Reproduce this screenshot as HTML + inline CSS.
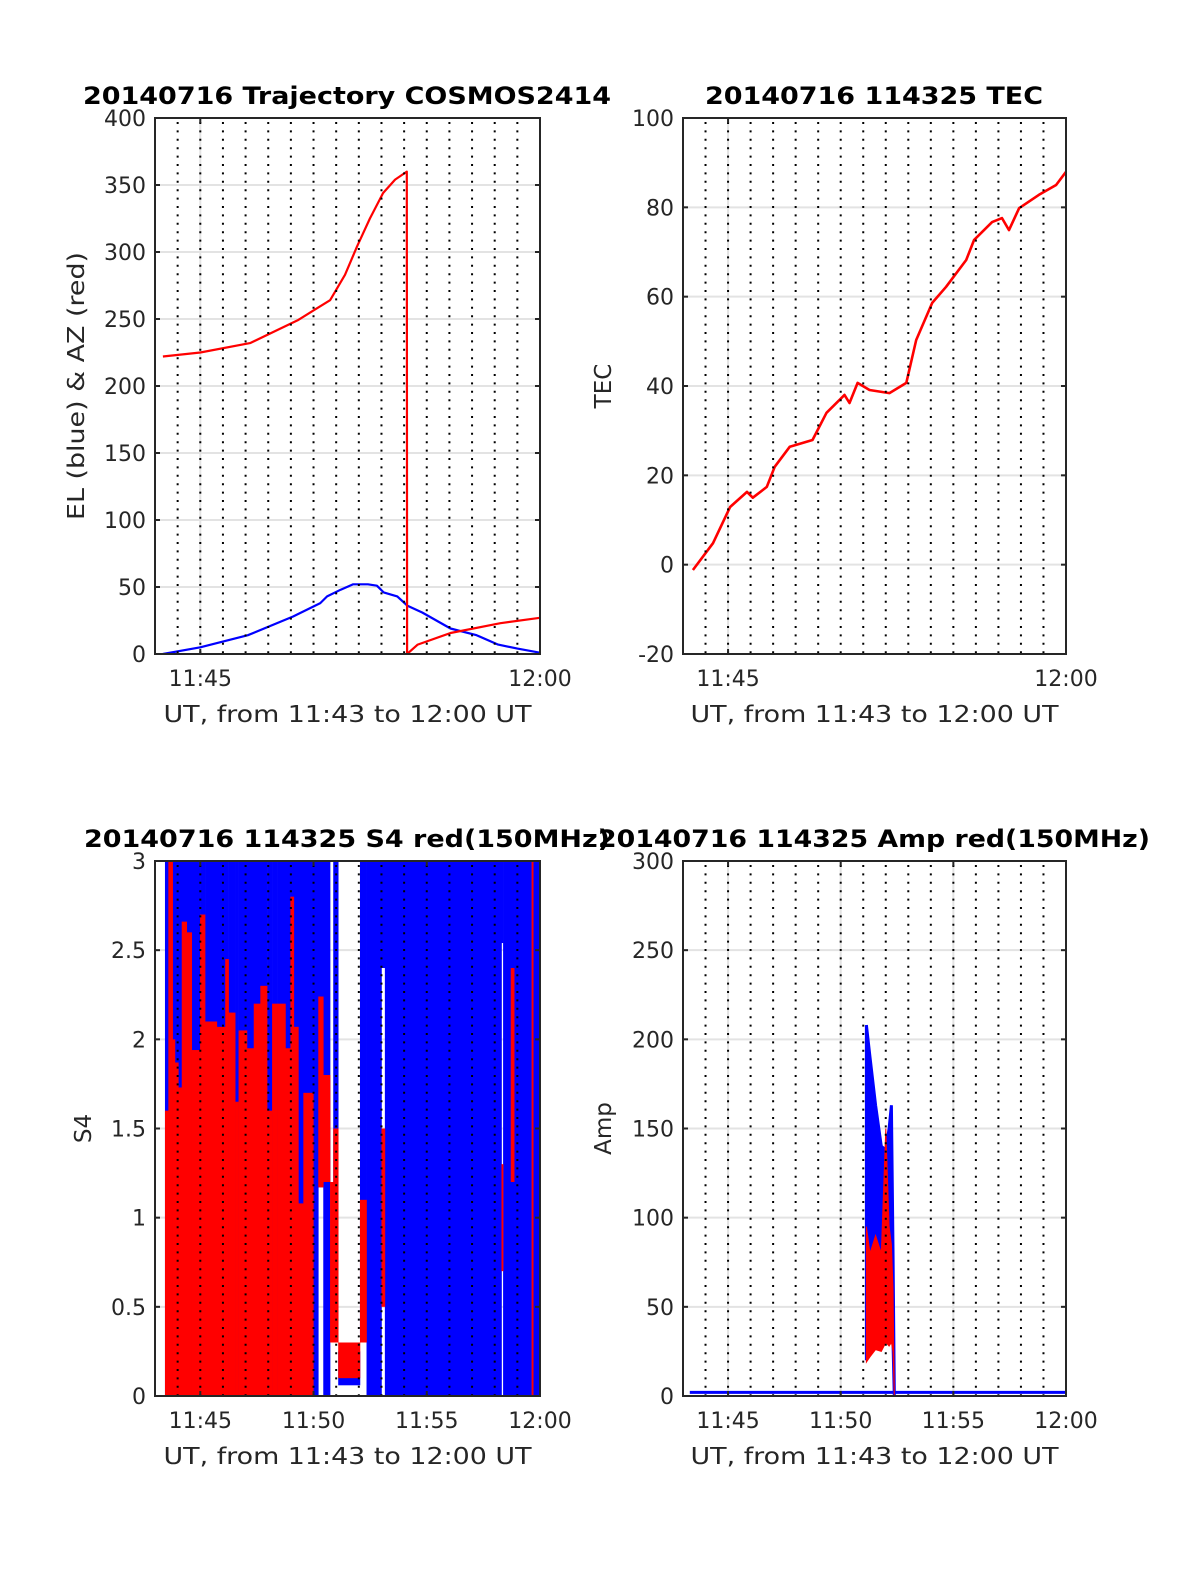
<!DOCTYPE html>
<html><head><meta charset="utf-8">
<style>
html,body{margin:0;padding:0;background:#fff;overflow:hidden;width:1200px;height:1575px;}
svg{display:block;}
text{font-family:"DejaVu Sans","Liberation Sans",sans-serif;fill:#262626;}
.title{font-weight:bold;font-size:24px;fill:#000;}
.tick{font-size:22px;}
.lab{font-size:23px;}
</style></head>
<body>
<svg id="root" width="1200" height="1575" viewBox="0 0 1200 1575" xmlns="http://www.w3.org/2000/svg">
<rect x="0" y="0" width="1200" height="1575" fill="#fff"/>
</svg>
<script>
// ---- data (times in minutes after 11:00) ----
const elTimes=[43.35,45.0,47.1,49.1,50.3,50.6,51.2,51.75,52.4,52.8,53.1,53.7,54.15,54.8,56.05,57.2,58.15,59.0,60.0];
const elValues=[0,5,14,28,38,43,48,52,52,51,46,43,36,31,19,14,7,4,1];
const azTimes=[43.35,45.0,47.2,49.3,50.06,50.73,51.39,51.92,52.49,53.07,53.6,54.04,54.12];
const azValues=[222,225,232,249,257,264,283,304,325,344,354,359,360];
const az2Times=[54.13,54.6,56.05,58.25,60.0];
const az2Values=[0,7,15.7,23,27];
const tecTimes=[43.44,44.33,45.09,45.84,46.1,46.72,47.07,47.74,48.75,49.37,50.17,50.39,50.75,51.28,52.16,52.91,53.35,54.06,54.68,55.57,55.92,56.72,57.16,57.47,57.92,58.8,59.56,60.05];
const tecValues=[-1.2,4.8,12.9,16.3,15,17.4,21.9,26.4,27.9,34,38,36.2,40.7,39.1,38.4,40.7,50.3,58.6,62.2,68.2,72.7,76.7,77.6,74.9,79.8,82.8,85,88.3];
const s4Start=[43.44,43.59,43.78,43.88,44.03,44.18,44.4,44.62,44.99,45.21,45.73,46.1,46.25,46.54,46.69,47.06,47.36,47.65,47.95,48.17,48.39,48.76,48.98,49.13,49.33,49.55,49.99,50.21,50.43,50.73,50.87,51.09,52.05,52.34,53.0,53.15,58.3,58.37,58.71,58.86,59.63,59.7];
const s4End=[43.59,43.78,43.88,44.03,44.18,44.4,44.62,44.99,45.21,45.73,46.1,46.25,46.54,46.69,47.06,47.36,47.65,47.95,48.17,48.39,48.76,48.98,49.13,49.33,49.55,49.99,50.21,50.43,50.73,50.87,51.09,52.05,52.34,53.0,53.15,58.3,58.37,58.71,58.86,59.63,59.7,60.0];
const s4BlueLo=[0,0,0,0,0,0,0,0,0,0,0,0,0,0,0,0,0,0,0,0,0,0,0,0,0,0,0,1.17,0,0.3,0.3,0.06,0.35,0,2.4,0,2.54,0,0,0,3,0];
const s4BlueHi=[3,3,3,3,3,3,3,3,3,3,3,3,3,3,3,3,3,3,3,3,3,3,3,3,3,3,3,3,3,0.9,3,0.25,3,3,3,3,3,3,3,3,3,3];
const s4RedLo=[0,0,0,0,0,0,0,0,0,0,0,0,0,0,0,0,0,0,0,0,0,0,0,0,0,0,0,1.17,1.2,0.3,0.3,0.1,0.3,0,0.5,0,0.7,0,1.2,0,0,0];
const s4RedHi=[1.6,3,2.0,1.87,1.73,2.66,2.6,1.94,2.7,2.1,2.07,2.45,2.15,1.65,2.05,1.95,2.2,2.3,1.6,2.2,2.2,1.95,2.8,2.07,1.08,1.7,0,2.24,1.8,1.2,1.5,0.3,1.1,0,1.5,0,1.3,0,2.4,0,3,0];
const ampTimes=[51.14,51.3,51.55,51.8,52.0,52.15,52.25,52.32,52.38];
const ampBlueHi=[208,190,163,140,138,150,163,82,3];
const ampBlueLo=[20,35,40,35,35,40,38,30,0];
const ampRedHi=[95,80,90,80,150,95,85,60,2];
const ampRedLo=[19,22,26,25,30,28,30,25,0];
const ampBaseTimes=[43.3,60.0];
const ampBaseValue=[2,2];

const NS='http://www.w3.org/2000/svg';
const root=document.getElementById('root');
function mk(tag,attrs,parent){const e=document.createElementNS(NS,tag);for(const k in attrs)e.setAttribute(k,attrs[k]);(parent||root).appendChild(e);return e;}
function fmtT(m){return (m>=60?'12:'+String(m-60).padStart(2,'0'):'11:'+String(m).padStart(2,'0'));}

function panel(o){
  const g=mk('g',{});
  
  
  const xs=t=>o.x0+(t-43)/(60-43)*(o.x1-o.x0);
  const ys=v=>o.y1-(v-o.ymin)/(o.ymax-o.ymin)*(o.y1-o.y0);
  o.yticks.forEach(v=>{const l=mk('line',{x1:o.x0,x2:o.x1,y1:ys(v),y2:ys(v),stroke:'#e3e3e3','stroke-width':2},g);
    });
  o.xticks.forEach(t=>{const l=mk('line',{x1:xs(t),x2:xs(t),y1:o.y0,y2:o.y1,stroke:'#e3e3e3','stroke-width':2},g);
    });
  const clip=mk('clipPath',{id:'c'+o.id},g);mk('rect',{x:o.x0,y:o.y0,width:o.x1-o.x0,height:o.y1-o.y0},clip);
  const d=mk('g',{'clip-path':'url(#c'+o.id+')'},g);
  
  o.draw(d,xs,ys);
  for(let m=44;m<60;m++){const l=mk('line',{x1:xs(m),x2:xs(m),y1:o.y0+4,y2:o.y1,stroke:'#000','stroke-width':2,'stroke-dasharray':'2 6.4'},g);
    }
  const b=mk('rect',{x:o.x0,y:o.y0,width:o.x1-o.x0,height:o.y1-o.y0,fill:'none',stroke:'#262626','stroke-width':2},g);
  
  o.yticks.forEach(v=>{mk('line',{x1:o.x0,x2:o.x0+5,y1:ys(v),y2:ys(v),stroke:'#262626','stroke-width':2},g);
    mk('line',{x1:o.x1-5,x2:o.x1,y1:ys(v),y2:ys(v),stroke:'#262626','stroke-width':2},g);
    const t=mk('text',{x:o.x0-9,y:ys(v)+8,'text-anchor':'end',class:'tick'},g);t.textContent=v;
    });
  o.xticks.forEach(tv=>{mk('line',{x1:xs(tv),x2:xs(tv),y1:o.y1-5,y2:o.y1,stroke:'#262626','stroke-width':2},g);
    mk('line',{x1:xs(tv),x2:xs(tv),y1:o.y0,y2:o.y0+5,stroke:'#262626','stroke-width':2},g);
    const t=mk('text',{x:xs(tv),y:o.y1+32,'text-anchor':'middle',class:'tick'},g);t.textContent=fmtT(tv);
    });
  const ti=mk('text',{x:o.tx,y:o.y0-14,'text-anchor':'middle',class:'title',textLength:o.tw,lengthAdjust:'spacingAndGlyphs'},g);ti.textContent=o.title;
  
  const xl=mk('text',{x:(o.x0+o.x1)/2,y:o.y1+68,'text-anchor':'middle',class:'lab',textLength:368,lengthAdjust:'spacingAndGlyphs'},g);xl.textContent='UT, from 11:43 to 12:00 UT';
  
  const yx=o.ylx,yy=(o.y0+o.y1)/2;
  const yl=mk('text',{x:yx,y:yy,'text-anchor':'middle',class:'lab',transform:'rotate(-90 '+yx+' '+yy+')'},g);yl.textContent=o.ylabel;
  if(o.ylw){yl.setAttribute('textLength',o.ylw);yl.setAttribute('lengthAdjust','spacingAndGlyphs');}
  
}
function line(p,xsArr,ysArr,col,w,name){
  const pts=xsArr.map((x,i)=>x.toFixed(1)+','+ysArr[i].toFixed(1)).join(' ');
  const l=mk('polyline',{points:pts,fill:'none',stroke:col,'stroke-width':w,'stroke-linejoin':'round'},p);
  return l;
}

panel({id:1,name:'trajectory-chart',x0:155,x1:540,y0:118,y1:654,ymin:0,ymax:400,yticks:[0,50,100,150,200,250,300,350,400],xticks:[45,60],
  title:'20140716 Trajectory COSMOS2414',tx:347,tw:528,ylabel:'EL (blue) & AZ (red)',ylx:84,ylw:268,
  draw:(d,xs,ys)=>{
    line(d,elTimes.map(xs),elValues.map(ys),'#0000ff',2.2,'elevation-line');
    const at=azTimes.concat(az2Times),av=azValues.concat(az2Values);
    line(d,at.map(xs),av.map(ys),'#ff0000',2.2,'azimuth-line');
  }});

panel({id:2,name:'tec-chart',x0:683,x1:1066,y0:118,y1:654,ymin:-20,ymax:100,yticks:[-20,0,20,40,60,80,100],xticks:[45,60],
  title:'20140716 114325 TEC',tx:874,tw:338,ylabel:'TEC',ylx:611,
  draw:(d,xs,ys)=>{
    line(d,tecTimes.map(xs),tecValues.map(ys),'#ff0000',2.6,'tec-line');
  }});

panel({id:3,name:'s4-chart',x0:155,x1:540,y0:861,y1:1396,ymin:0,ymax:3,yticks:[0,0.5,1,1.5,2,2.5,3],xticks:[45,50,55,60],
  title:'20140716 114325 S4 red(150MHz)',tx:347,tw:526,ylabel:'S4',ylx:91,
  draw:(d,xs,ys)=>{
    s4Start.forEach((t,i)=>{
      if(s4BlueHi[i]>s4BlueLo[i]){const r=mk('rect',{x:xs(t),width:xs(s4End[i])-xs(t)+0.3,y:ys(s4BlueHi[i]),height:ys(s4BlueLo[i])-ys(s4BlueHi[i]),fill:'#0000ff'},d);
        }
    });
    s4Start.forEach((t,i)=>{
      if(s4RedHi[i]>s4RedLo[i]){const w=Math.max(1.5,(xs(s4End[i])-xs(t))+0.3);
        const r=mk('rect',{x:xs(t),width:w,y:ys(s4RedHi[i]),height:ys(s4RedLo[i])-ys(s4RedHi[i]),fill:'#ff0000'},d);
        }
    });
  }});

panel({id:4,name:'amp-chart',x0:683,x1:1066,y0:861,y1:1396,ymin:0,ymax:300,yticks:[0,50,100,150,200,250,300],xticks:[45,50,55,60],
  title:'20140716 114325 Amp red(150MHz)',tx:874,tw:552,ylabel:'Amp',ylx:611,
  draw:(d,xs,ys)=>{
    line(d,ampBaseTimes.map(xs),ampBaseValue.map(ys),'#0000ff',3,'amp-baseline');
    const bp=ampTimes.map((t,i)=>xs(t).toFixed(1)+','+ys(ampBlueHi[i]).toFixed(1)).concat(ampTimes.slice().reverse().map((t,j)=>{const i=ampTimes.length-1-j;return xs(t).toFixed(1)+','+ys(ampBlueLo[i]).toFixed(1);}));
    const b=mk('polygon',{points:bp.join(' '),fill:'#0000ff',stroke:'#0000ff','stroke-width':3},d);
    
    const rp=ampTimes.map((t,i)=>xs(t).toFixed(1)+','+ys(ampRedHi[i]).toFixed(1)).concat(ampTimes.slice().reverse().map((t,j)=>{const i=ampTimes.length-1-j;return xs(t).toFixed(1)+','+ys(ampRedLo[i]).toFixed(1);}));
    const r=mk('polygon',{points:rp.join(' '),fill:'#ff0000',stroke:'#ff0000','stroke-width':1},d);
    
  }});
</script>
</body></html>
